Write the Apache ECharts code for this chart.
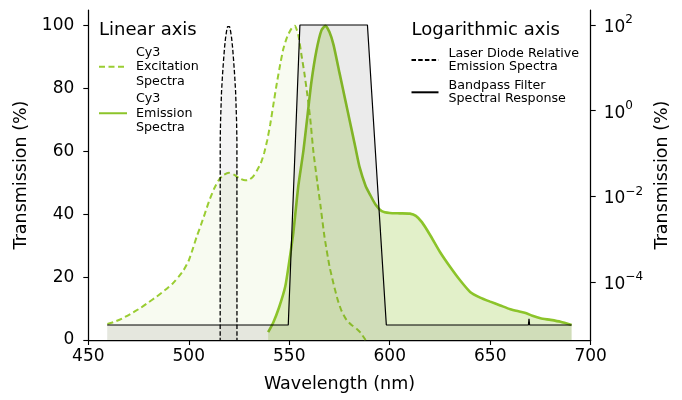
<!DOCTYPE html>
<html>
<head>
<meta charset="utf-8">
<script src="https://cdn.jsdelivr.net/npm/echarts@6/dist/echarts.min.js"></script>
<style>
html, body { margin: 0; padding: 0; background: #fff; }
#chart { width: 682px; height: 400px; }
</style>
</head>
<body>
<div id="chart"></div>
<script>
// values
const excWl = [459.5, 463, 467, 471, 476, 480, 484, 488, 492, 495, 497.5, 500, 502, 504, 506, 508, 510, 512.5, 515, 517.5, 520, 522.5, 525, 528, 530, 532, 534, 536, 537.5, 539, 540.5, 542, 543.5, 545, 547, 549, 551, 552.8, 554.5, 556, 557.5, 559, 560.5, 562, 564, 565.5, 567.5, 570, 572, 574, 576, 578.5, 581, 583.5, 585.5, 588]
const excVal = [5.1, 5.8, 6.9, 8.3, 10.2, 12, 13.8, 15.8, 18, 20.2, 22.3, 25.3, 29, 33, 36.5, 40.2, 44, 48, 51, 52.6, 53.2, 52.6, 51.5, 50.8, 51, 52, 54, 56.5, 59.5, 63.5, 68.5, 74.5, 80.5, 86, 92.5, 96.5, 99, 100, 97, 91, 85, 78, 70, 60, 50, 43, 33, 23.5, 18, 13, 9.3, 6.4, 4.8, 3.6, 2.3, 0]

const emWl = [539.5, 542, 545, 548, 550, 552, 554.5, 557, 559, 561, 563.5, 566, 568, 570, 572, 575, 578, 580, 583, 585, 588, 590, 593, 596, 600, 605, 610, 613, 616, 620, 625, 630, 635, 640, 645, 650, 655, 660, 665, 668, 671, 675, 680, 685, 690.5]
const emVal = [2.5, 5.5, 10.5, 17, 25, 34, 49, 60, 71, 82, 92, 98.5, 100, 98, 94, 85, 76, 70, 61, 55, 49, 46.5, 43, 41, 40.4, 40.3, 40.2, 39.5, 37.5, 33.5, 28, 23.3, 19, 15.3, 13.5, 12.2, 11, 9.8, 9, 8.5, 7.7, 6.9, 6.4, 5.8, 4.8]

const laserWl = [515.6, 515.65, 515.8, 516.3, 516.8, 517.3, 517.8, 518.3, 518.8, 519.3, 519.8, 520.3, 520.8, 521.3, 521.8, 522.3, 522.8, 523.3, 523.8, 523.95, 524.0]
const laserVal = [1e-9, 0.2, 0.55, 2.8, 7, 15, 30, 50, 72, 92, 100, 92, 72, 50, 30, 15, 7, 2.8, 0.55, 0.2, 1e-9]

const filterWl = [459.4, 549.5, 555.3, 588.9, 598.3, 669.0, 669.3, 669.6, 690.5]
const filterVal = [1e-5, 1e-5, 100, 100, 1e-5, 1e-5, 1.4e-5, 1e-5, 1e-5]

const xTicks = [450, 500, 550, 600, 650, 700]
const linTicks = [0, 20, 40, 60, 80, 100]
const logTicks = [-4, -2, 0, 2]

const names = {
  exc: 'Cy3\nExcitation\nSpectra',
  em: 'Cy3\nEmission\nSpectra',
  laser: 'Laser Diode Relative\nEmission Spectra',
  filter: 'Bandpass Filter\nSpectral Response'
}

const font = 'DejaVu Sans'
const pairs = (xs, ys) => xs.map((x, i) => [x, ys[i]])
const logPairs = (xs, ys) => xs.map((x, i) => [x, Math.log10(ys[i])])

const chart = echarts.init(document.getElementById('chart'))

chart.setOption({
  animation: false,
  textStyle: { fontFamily: font, color: '#000' },
  grid: { left: 88.3, right: 91.3, top: 10, bottom: 60 },
  title: [
    { text: 'Linear axis', left: 99, top: 21, padding: 0,
      textStyle: { fontFamily: font, fontSize: 18, fontWeight: 'normal', color: '#000' } },
    { text: 'Logarithmic axis', left: 411.5, top: 21, padding: 0,
      textStyle: { fontFamily: font, fontSize: 18, fontWeight: 'normal', color: '#000' } }
  ],
  legend: [
    {
      data: [names.exc, names.em],
      orient: 'vertical', left: 98, top: 45, padding: 0,
      itemWidth: 28, itemHeight: 10, itemGap: 3,
      itemStyle: { opacity: 0 },
      textStyle: { fontFamily: font, fontSize: 12.7, lineHeight: 14.5, color: '#000', padding: [0, 0, 0, 4] }
    },
    {
      data: [names.laser, names.filter],
      orient: 'vertical', left: 410.5, top: 46.5, padding: 0,
      itemWidth: 27, itemHeight: 10, itemGap: 5.3,
      itemStyle: { opacity: 0 },
      textStyle: { fontFamily: font, fontSize: 12.7, lineHeight: 13.5, color: '#000', padding: [0, 0, 0, 5] }
    }
  ],
  xAxis: {
    type: 'value', min: 450, max: 700, interval: 50,
    name: 'Wavelength (nm)', nameLocation: 'middle', nameGap: 35,
    nameTextStyle: { fontFamily: font, fontSize: 17.5, color: '#000' },
    axisLine: { lineStyle: { color: '#000', width: 1.25 } },
    axisTick: { length: 5, lineStyle: { color: '#000', width: 1.1 }, customValues: xTicks },
    axisLabel: { fontFamily: font, fontSize: 17, color: '#000', margin: 8, customValues: xTicks },
    splitLine: { show: false }
  },
  yAxis: [
    {
      type: 'value', min: 0, max: 105,
      name: 'Transmission (%)', nameLocation: 'middle', nameGap: 57, nameRotate: 90,
      nameTextStyle: { fontFamily: font, fontSize: 17.5, color: '#000' },
      axisLine: { show: true, lineStyle: { color: '#000', width: 1.25 } },
      axisTick: { show: true, length: 5, lineStyle: { color: '#000', width: 1.1 }, customValues: linTicks },
      axisLabel: { fontFamily: font, fontSize: 17, color: '#000', margin: 14, customValues: linTicks },
      splitLine: { show: false }
    },
    {
      type: 'value', min: -5.35, max: 2.35, position: 'right',
      name: 'Transmission (%)', nameLocation: 'middle', nameGap: 56, nameRotate: 90,
      nameTextStyle: { fontFamily: font, fontSize: 17.5, color: '#000' },
      axisLine: { show: true, onZero: false, lineStyle: { color: '#000', width: 1.25 } },
      axisTick: { show: true, length: 5, lineStyle: { color: '#000', width: 1.1 }, customValues: logTicks },
      axisLabel: {
        margin: 13, customValues: logTicks,
        formatter: v => '{b|10}{s|' + (v < 0 ? '\u2212' + (-v) : v) + '}',
        rich: {
          b: { fontFamily: font, fontSize: 17, color: '#000', verticalAlign: 'bottom', lineHeight: 22 },
          s: { fontFamily: font, fontSize: 12, color: '#000', verticalAlign: 'top', lineHeight: 12 }
        }
      },
      splitLine: { show: false }
    }
  ],
  series: [
    {
      name: names.exc, type: 'line', yAxisIndex: 0, symbol: 'none', smooth: 0.2,
      data: pairs(excWl, excVal),
      lineStyle: { color: '#9acd32', width: 2, type: [6, 3.5] },
      itemStyle: { color: '#9acd32' },
      areaStyle: { color: 'rgba(154,205,50,0.1)', origin: 'start' },
      z: 2
    },
    {
      name: names.em, type: 'line', yAxisIndex: 0, symbol: 'none', smooth: 0.2,
      data: pairs(emWl, emVal),
      lineStyle: { color: '#8cc42a', width: 2.6 },
      itemStyle: { color: '#8cc42a' },
      areaStyle: { color: 'rgba(140,195,40,0.36)', origin: 'start' },
      z: 3
    },
    {
      name: names.filter, type: 'line', yAxisIndex: 1, symbol: 'none',
      data: logPairs(filterWl, filterVal),
      lineStyle: { color: '#000', width: 1.2 },
      itemStyle: { color: '#000' },
      areaStyle: { color: 'rgba(0,0,0,0.11)', origin: 'start' },
      z: 4
    },
    {
      name: names.laser, type: 'line', yAxisIndex: 1, symbol: 'none',
      data: logPairs(laserWl, laserVal),
      lineStyle: { color: '#000', width: 1.3, type: [4.5, 2.2] },
      itemStyle: { color: '#000' },
      areaStyle: { color: 'rgba(0,0,0,0.06)', origin: 'start' },
      z: 5
    }
  ]
})
</script>
</body>
</html>
